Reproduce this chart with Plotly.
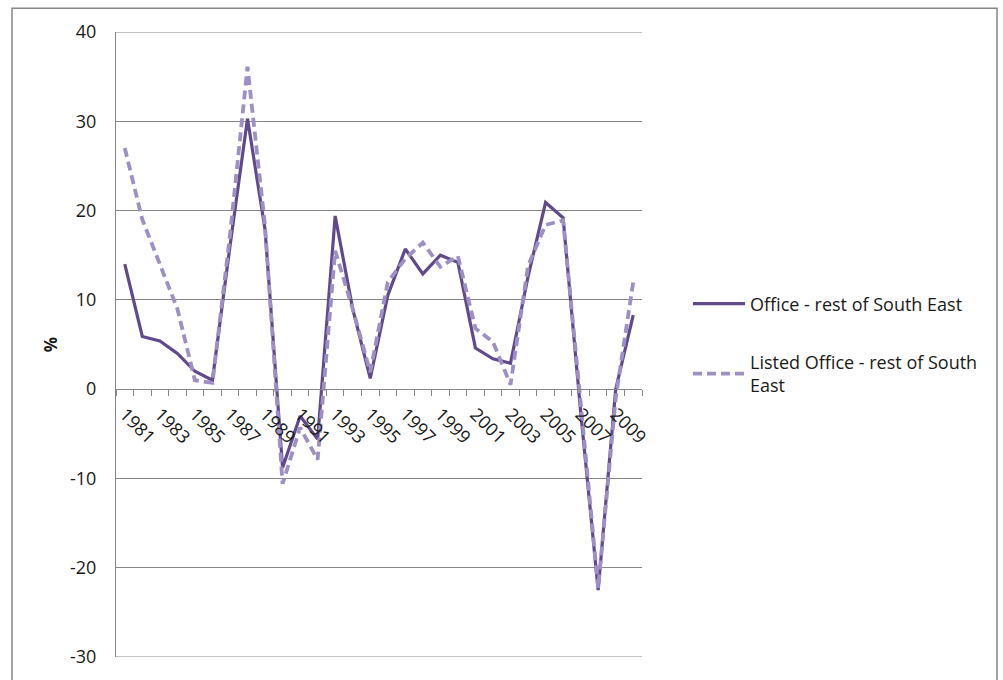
import plotly.graph_objects as go

years = list(range(1981, 2011))
office = [14.0, 5.9, 5.4, 4.0, 2.0, 1.0, 16.0, 30.3, 17.9, -8.8, -3.0, -5.6, 19.4, 9.0, 1.2,
          10.5, 15.7, 12.9, 15.0, 14.2, 4.6, 3.4, 2.9, 12.6, 20.9, 19.2, -2.5, -22.5, 0.0, 8.3]
listed = [27.0, 19.0, 14.0, 9.0, 1.0, 0.7, 17.2, 36.1, 18.3, -10.6, -4.3, -7.9, 15.5, 9.0, 1.9,
          12.0, 14.6, 16.4, 13.7, 14.9, 6.8, 5.3, 0.5, 13.8, 18.4, 18.9, -1.5, -22.3, -1.0, 12.0]
tick_years = list(range(1981, 2010, 2))
y_ticks = [-30, -20, -10, 0, 10, 20, 30, 40]
y_labels = [str(v) for v in y_ticks]

FONT = "Open Sans"
TXT = "#1a1a1a"

fig = go.Figure()
fig.add_trace(go.Scatter(x=years, y=office, mode="lines", name="Office - rest of South East",
                         line=dict(color="#604A8B", width=3.2), legendgroup="a"))
fig.add_trace(go.Scatter(x=years, y=listed, mode="lines", name="Listed Office - rest of South<br>East",
                         line=dict(color="#9E90C4", width=3.8, dash="9px,5px"), legendgroup="b"))

W, H = 1003, 680
L, R, T, B = 116, 642, 32, 661
zero_pos = (B - 391) / (B - T)

fig.update_layout(
    width=W, height=H,
    margin=dict(l=L, r=W - R, t=T, b=H - B, pad=0),
    paper_bgcolor="white", plot_bgcolor="white",
    font=dict(family=FONT, size=17, color=TXT),
    showlegend=True,
    legend=dict(x=(688 - L) / (R - L), y=(B - 287) / (B - T), xanchor="left", yanchor="top",
                font=dict(family=FONT, size=18, color=TXT),
                tracegroupgap=32, itemwidth=52, bgcolor="rgba(0,0,0,0)"),
    xaxis=dict(
        range=[1980.5, 2010.5],
        tickmode="array", tickvals=tick_years, ticktext=[str(y) for y in tick_years],
        tickangle=45, ticks="", ticklen=0, ticklabelstandoff=7,
        showgrid=False, zeroline=False,
        showline=True, linecolor="#868686", linewidth=1,
        anchor="free", position=zero_pos,
        tickfont=dict(family=FONT, size=18, color=TXT),
        minor=dict(tickmode="linear", tick0=1980.5, dtick=1, ticks="outside",
                   ticklen=6, tickcolor="#868686", tickwidth=1, showgrid=False),
    ),
    yaxis=dict(
        range=[-30, 40], tickmode="array", tickvals=y_ticks, ticktext=y_labels,
        showgrid=True, gridcolor="#868686", gridwidth=1,
        zeroline=False, showline=True, linecolor="#868686", linewidth=1,
        ticks="", ticklabelstandoff=15,
        tickfont=dict(family=FONT, size=18, color=TXT),
        title=dict(text="<b>%</b>", font=dict(family=FONT, size=17, color=TXT), standoff=8),
    ),
)

# top and bottom gridlines at the range edges
for yv in (y_ticks[0], y_ticks[-1]):
    fig.add_shape(type="line", xref="paper", yref="y", x0=0, x1=1, y0=yv, y1=yv,
                  line=dict(color="#868686", width=1), layer="below")

fig.add_shape(type="rect", xref="paper", yref="paper",
              x0=(12 - L) / (R - L), x1=(997 - L) / (R - L),
              y0=(B - 700) / (B - T), y1=(B - 8) / (B - T),
              line=dict(color="#868686", width=1.5), fillcolor="rgba(0,0,0,0)", layer="below")

fig.write_html("out.html")
